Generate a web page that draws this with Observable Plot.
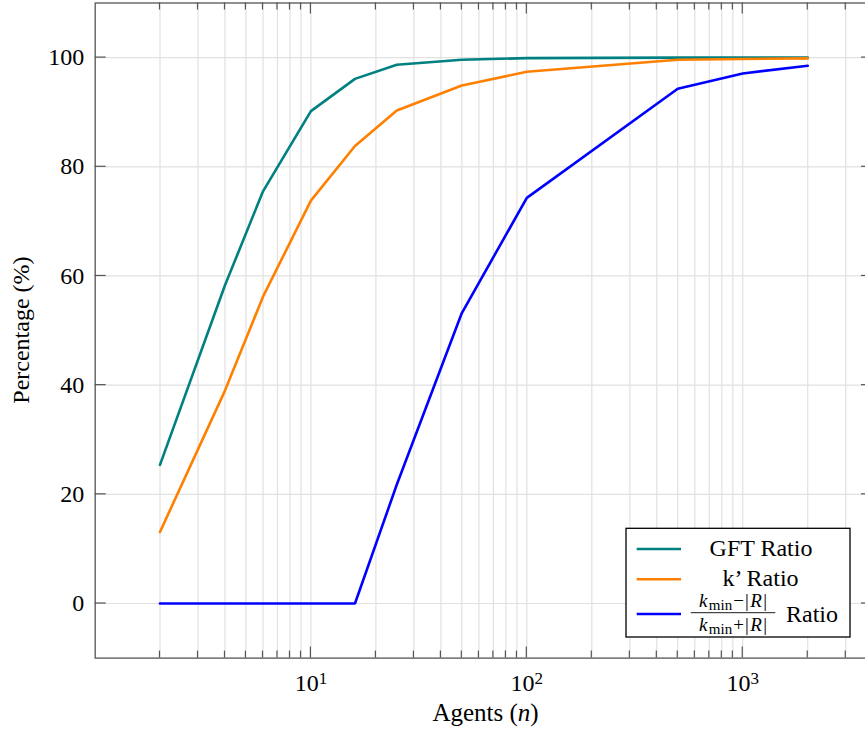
<!DOCTYPE html>
<html>
<head>
<meta charset="utf-8">
<script src="https://cdn.jsdelivr.net/npm/d3@7"></script>
<script src="https://cdn.jsdelivr.net/npm/@observablehq/plot@0.6"></script>
<style>
  body { margin: 0; background: #fff; overflow: hidden; }
  #chart { width: 865px; height: 731px; overflow: hidden; position: relative; }
  #chart svg { max-width: none !important; }
</style>
</head>
<body>
<div id="chart"></div>
<script>
// ---- data ----
const xValues = [2, 4, 6, 10, 16, 25, 50, 100, 500, 1000, 2000];
const gftRatio = [25.4, 58.3, 75.5, 90.2, 96.1, 98.7, 99.6, 99.9, 100, 100, 100];
const kPrimeRatio = [13.1, 39.0, 56.2, 73.8, 83.8, 90.3, 94.9, 97.4, 99.6, 99.75, 99.85];
const kminRatio = [0, 0, 0, 0, 0, 21.8, 53.2, 74.3, 94.3, 97.1, 98.5];
const seriesNames = ["GFT Ratio", "k’ Ratio", "kmin Ratio"];
const seriesColors = ["#008080", "#ff8000", "#0000ff"];
const xMajorTicks = [10, 100, 1000];
const xMinorTicks = [2,3,4,5,6,7,8,9,20,30,40,50,60,70,80,90,200,300,400,500,600,700,800,900,2000,3000];
const yTicks = [0, 20, 40, 60, 80, 100];
const xDomain = [1.0023, 3990];
const yDomain = [-10, 110];
const xLabel = "Agents";
const yLabel = "Percentage (%)";

const seriesValues = [gftRatio, kPrimeRatio, kminRatio];
const rows = seriesNames.flatMap((name, i) => xValues.map((x, j) => ({x, y: seriesValues[i][j], series: name})));

const FONT = "'Liberation Serif', 'DejaVu Serif', serif";
const GRID = "#e1e1e1";
const AXIS = "#555";
const FS = 24;

const plot = Plot.plot({
  width: 873,
  height: 731,
  marginLeft: 94.7,
  marginRight: 1,
  marginTop: 2.5,
  marginBottom: 73.4,
  style: {fontFamily: FONT, fontSize: FS + "px", background: "white", color: "black", maxWidth: "none"},
  x: {type: "log", domain: xDomain},
  y: {domain: yDomain},
  color: {domain: seriesNames, range: seriesColors},
  marks: [
    Plot.ruleX([...xMinorTicks, ...xMajorTicks], {stroke: GRID, strokeWidth: 1.2}),
    Plot.ruleY(yTicks, {stroke: GRID, strokeWidth: 1.2}),
    Plot.line(rows, {x: "x", y: "y", z: "series", stroke: "series", strokeWidth: 2.6, strokeLinejoin: "miter"}),
    Plot.axisX(xMajorTicks, {tickSize: 0, tickPadding: 16, fontSize: FS, label: null,
      tickFormat: d => "10^" + Math.round(Math.log10(d))}),
    Plot.axisY(yTicks, {tickSize: 0, tickPadding: 11, fontSize: FS, label: null, tickFormat: d => String(d)}),
    Plot.frame({stroke: AXIS, strokeWidth: 1.3})
  ]
});

document.getElementById("chart").appendChild(plot);
const svg = d3.select(plot);
const sx = plot.scale("x"), sy = plot.scale("y");
const X0 = sx.range[0], X1 = sx.range[1];
const Yb = sy.range[0], Yt = sy.range[1];

// superscript tick labels
svg.selectAll("g[aria-label='x-axis tick label'] text").each(function() {
  const t = d3.select(this);
  const parts = t.text().split("^");
  if (parts.length !== 2) return;
  t.text(null);
  t.append("tspan").text(parts[0]);
  t.append("tspan").attr("dy", "-0.42em").attr("font-size", "17px").text(parts[1]);
});

// inward tick marks on all four sides
const tg = svg.append("g").attr("stroke", AXIS).attr("stroke-width", 1.2);
const tick = (x1, y1, x2, y2) => tg.append("line").attr("x1", x1).attr("y1", y1).attr("x2", x2).attr("y2", y2);
xMajorTicks.forEach(v => { const p = sx.apply(v); tick(p, Yb, p, Yb - 11); tick(p, Yt, p, Yt + 11); });
xMinorTicks.forEach(v => { const p = sx.apply(v); tick(p, Yb, p, Yb - 7); tick(p, Yt, p, Yt + 7); });
yTicks.forEach(v => { const p = sy.apply(v); tick(X0, p, X0 + 11, p); tick(X1, p, X1 - 11, p); });

// axis labels
const xl = svg.append("text").attr("x", 485.5).attr("y", 721)
  .attr("text-anchor", "middle").attr("font-family", FONT).attr("font-size", 25).attr("fill", "black");
xl.append("tspan").text(xLabel + " (");
xl.append("tspan").attr("font-style", "italic").text("n");
xl.append("tspan").text(")");

svg.append("text").attr("transform", `translate(21,${(Yb + Yt) / 2}) rotate(-90)`)
  .attr("dy", "0.35em").attr("text-anchor", "middle").attr("font-family", FONT)
  .attr("font-size", FS).attr("fill", "black").text(yLabel);

// legend
const lg = svg.append("g").attr("font-family", FONT).attr("fill", "black");
lg.append("rect").attr("x", 626).attr("y", 528.3).attr("width", 224).attr("height", 108.7)
  .attr("fill", "white").attr("stroke", "black").attr("stroke-width", 1.3);
const sampleY = [549, 579.3, 614];
seriesColors.forEach((c, i) => {
  lg.append("line").attr("x1", 636.7).attr("x2", 681).attr("y1", sampleY[i]).attr("y2", sampleY[i])
    .attr("stroke", c).attr("stroke-width", 2.6);
});
lg.append("text").attr("x", 761).attr("y", 555.5).attr("text-anchor", "middle").attr("font-size", FS).text(seriesNames[0]);
lg.append("text").attr("x", 760.5).attr("y", 585.5).attr("text-anchor", "middle").attr("font-size", FS).text(seriesNames[1]);
// fraction (k_min - |R|) / (k_min + |R|)
const frac = (y, op) => {
  const t = lg.append("text").attr("x", 733).attr("y", y).attr("text-anchor", "middle").attr("font-size", 19);
  t.append("tspan").attr("font-style", "italic").text("k");
  t.append("tspan").attr("font-size", 15).attr("dx", 1.5).attr("dy", 3).text("min");
  t.append("tspan").attr("dy", -3).attr("dx", 1).text(op);
  t.append("tspan").attr("dx", 1).text("|");
  t.append("tspan").attr("font-style", "italic").attr("dx", 1.5).text("R");
  t.append("tspan").attr("dx", 1.5).text("|");
};
frac(607, "−");
frac(631, "+");
lg.append("line").attr("x1", 690.7).attr("x2", 775.3).attr("y1", 612.7).attr("y2", 612.7)
  .attr("stroke", "black").attr("stroke-width", 0.9);
lg.append("text").attr("x", 786).attr("y", 622).attr("text-anchor", "start").attr("font-size", FS).text("Ratio");
</script>
</body>
</html>
